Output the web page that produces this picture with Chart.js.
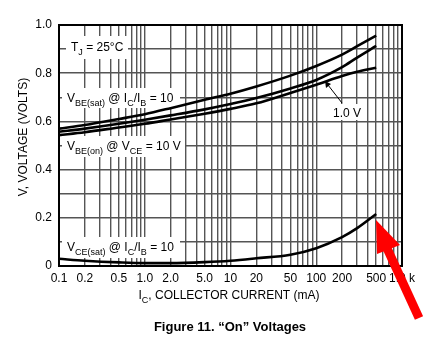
<!DOCTYPE html>
<html>
<head>
<meta charset="utf-8">
<script src="https://cdn.jsdelivr.net/npm/chart.js@4.4.1/dist/chart.umd.min.js"></script>
<style>
  body { margin: 0; background: #fff; }
  canvas { display: block; }
</style>
</head>
<body>
<canvas id="onChart" width="424" height="353"></canvas>
<script>
// collector current, mA
const currents = [0.1, 0.2, 0.5, 1, 2, 5, 10, 20, 50, 100, 200, 300, 500];
// volts
const vbeSat   = [0.570, 0.585, 0.610, 0.630, 0.655, 0.690, 0.715, 0.745, 0.790, 0.830, 0.877, 0.912, 0.956];
const vbeOn1   = [0.557, 0.570, 0.590, 0.607, 0.625, 0.650, 0.672, 0.697, 0.737, 0.772, 0.825, 0.865, 0.913];
const vbeOn10  = [0.543, 0.555, 0.575, 0.590, 0.608, 0.632, 0.652, 0.675, 0.718, 0.752, 0.788, 0.806, 0.823];
const vceSat   = [0.030, 0.022, 0.015, 0.012, 0.012, 0.016, 0.022, 0.032, 0.047, 0.074, 0.120, 0.157, 0.216];

// x grid lines (log minors) and the labelled ones
const xGrid = [0.1, 0.2, 0.3, 0.4, 0.5, 0.6, 0.7, 0.8, 0.9,
               1, 2, 3, 4, 5, 6, 7, 8, 9,
               10, 20, 30, 40, 50, 60, 70, 80, 90,
               100, 200, 300, 400, 500, 600, 700, 800, 900, 1000];
const xLabelVals = [0.1, 0.2, 0.5, 1, 2, 5, 10, 20, 50, 100, 200, 500, 1000];
const xLabelText = ['0.1', '0.2', '0.5', '1.0', '2.0', '5.0', '10', '20', '50', '100', '200', '500', '1.0 k'];
const yLabelVals = [0, 0.2, 0.4, 0.6, 0.8, 1.0];
const yLabelText = ['0', '0.2', '0.4', '0.6', '0.8', '1.0'];

const FONT = "'Liberation Sans', Arial, Helvetica, sans-serif";

function pairs(ys) {
    return currents.map((x, i) => ({ x: x, y: ys[i] }));
}

// text with subscripts: segs = [[text, isSub], ...]
function richWidth(ctx, segs, size) {
    let w = 0;
    segs.forEach(s => {
        ctx.font = (s[1] ? size * 0.75 : size) + 'px ' + FONT;
        w += ctx.measureText(s[0]).width;
    });
    return w;
}
function drawRich(ctx, segs, x, y, size, center) {
    let cx = center ? x - richWidth(ctx, segs, size) / 2 : x;
    ctx.textAlign = 'left';
    ctx.textBaseline = 'alphabetic';
    ctx.fillStyle = '#000';
    segs.forEach(s => {
        ctx.font = (s[1] ? size * 0.75 : size) + 'px ' + FONT;
        ctx.fillText(s[0], cx, s[1] ? y + size * 0.3 : y);
        cx += ctx.measureText(s[0]).width;
    });
}
function whiteBox(ctx, x0, y0, x1, y1) {
    ctx.fillStyle = '#fff';
    ctx.fillRect(x0, y0, x1 - x0, y1 - y0);
}

const labelsPlugin = {
    id: 'labels',
    beforeDatasetsDraw(chart) {
        const ctx = chart.ctx;
        ctx.save();
        whiteBox(ctx, 66, 36, 128, 59);
        drawRich(ctx, [['T', 0], ['J', 1], [' = 25°C', 0]], 71, 51, 12);
        whiteBox(ctx, 62, 88, 180, 108);
        drawRich(ctx, [['V', 0], ['BE(sat)', 1], [' @ I', 0], ['C', 1], ['/I', 0], ['B', 1], [' = 10', 0]], 67, 102, 12);
        whiteBox(ctx, 62, 136, 185, 157);
        drawRich(ctx, [['V', 0], ['BE(on)', 1], [' @ V', 0], ['CE', 1], [' = 10 V', 0]], 67, 150, 12);
        whiteBox(ctx, 62, 237, 180, 258);
        drawRich(ctx, [['V', 0], ['CE(sat)', 1], [' @ I', 0], ['C', 1], ['/I', 0], ['B', 1], [' = 10', 0]], 67, 251, 12);
        whiteBox(ctx, 330, 104, 362, 120);
        drawRich(ctx, [['1.0 V', 0]], 333, 117, 12);
        ctx.restore();
    },
    afterDraw(chart) {
        const ctx = chart.ctx;
        const a = chart.chartArea;
        ctx.save();
        // frame
        ctx.strokeStyle = '#000';
        ctx.lineWidth = 2;
        ctx.strokeRect(a.left, a.top, a.right - a.left, a.bottom - a.top);

        // pointer for the 1.0 V curve
        ctx.lineWidth = 1;
        ctx.beginPath();
        ctx.moveTo(342, 103);
        ctx.lineTo(328, 85);
        ctx.stroke();
        ctx.beginPath();
        ctx.moveTo(325, 81);
        ctx.lineTo(331, 84);
        ctx.lineTo(326, 88);
        ctx.closePath();
        ctx.fillStyle = '#000';
        ctx.fill();

        // axis titles and caption
        ctx.save();
        ctx.translate(23, 137);
        ctx.rotate(-Math.PI / 2);
        drawRich(ctx, [['V, VOLTAGE (VOLTS)', 0]], 0, 4, 12, true);
        ctx.restore();
        drawRich(ctx, [['I', 0], ['C', 1], [', COLLECTOR CURRENT (mA)', 0]], 229, 299, 12, true);
        ctx.font = 'bold 13px ' + FONT;
        ctx.textAlign = 'center';
        ctx.fillStyle = '#000';
        ctx.fillText('Figure 11. \u201cOn\u201d Voltages', 230, 331);

        // red arrow
        ctx.fillStyle = '#ff0000';
        ctx.beginPath();
        ctx.moveTo(376, 220);
        ctx.lineTo(377, 254);
        ctx.lineTo(400, 245);
        ctx.closePath();
        ctx.fill();
        ctx.strokeStyle = '#ff0000';
        ctx.lineWidth = 9;
        ctx.lineCap = 'butt';
        ctx.beginPath();
        ctx.moveTo(386, 246);
        ctx.lineTo(419, 318);
        ctx.stroke();
        ctx.restore();
    }
};

const curveStyle = {
    borderColor: '#000',
    borderWidth: 2.6,
    pointRadius: 0,
    fill: false,
    cubicInterpolationMode: 'monotone'
};

new Chart(document.getElementById('onChart'), {
    type: 'line',
    data: {
        datasets: [
            Object.assign({ label: 'VBE(sat) @ IC/IB = 10', data: pairs(vbeSat) }, curveStyle),
            Object.assign({ label: 'VBE(on) @ VCE = 1.0 V', data: pairs(vbeOn1) }, curveStyle),
            Object.assign({ label: 'VBE(on) @ VCE = 10 V', data: pairs(vbeOn10) }, curveStyle),
            Object.assign({ label: 'VCE(sat) @ IC/IB = 10', data: pairs(vceSat) }, curveStyle)
        ]
    },
    options: {
        responsive: false,
        animation: false,
        layout: { padding: { left: 0, top: 25, right: 22, bottom: 0 } },
        plugins: {
            legend: { display: false },
            tooltip: { enabled: false }
        },
        scales: {
            x: {
                type: 'logarithmic',
                min: 0.1,
                max: 1000,
                afterBuildTicks: function(scale) {
                    scale.ticks = xGrid.map(v => ({ value: v }));
                },
                afterFit: function(scale) { scale.height = 87; },
                grid: { color: '#555', lineWidth: 1.4, drawTicks: false },
                border: { color: '#000', width: 2 },
                ticks: {
                    autoSkip: false,
                    maxRotation: 0,
                    padding: 5,
                    color: '#000',
                    font: { family: FONT, size: 12 },
                    callback: function(value) {
                        const i = xLabelVals.findIndex(v => Math.abs(v - value) < 1e-9);
                        return i >= 0 ? xLabelText[i] : '';
                    }
                }
            },
            y: {
                min: 0,
                max: 1,
                afterFit: function(scale) { scale.width = 59; },
                grid: { color: '#555', lineWidth: 1.4, drawTicks: false },
                border: { color: '#000', width: 2 },
                ticks: {
                    stepSize: 0.1,
                    padding: 7,
                    color: '#000',
                    font: { family: FONT, size: 12 },
                    callback: function(value) {
                        const i = yLabelVals.findIndex(v => Math.abs(v - value) < 1e-6);
                        return i >= 0 ? yLabelText[i] : '';
                    }
                }
            }
        }
    },
    plugins: [labelsPlugin]
});
</script>
</body>
</html>
